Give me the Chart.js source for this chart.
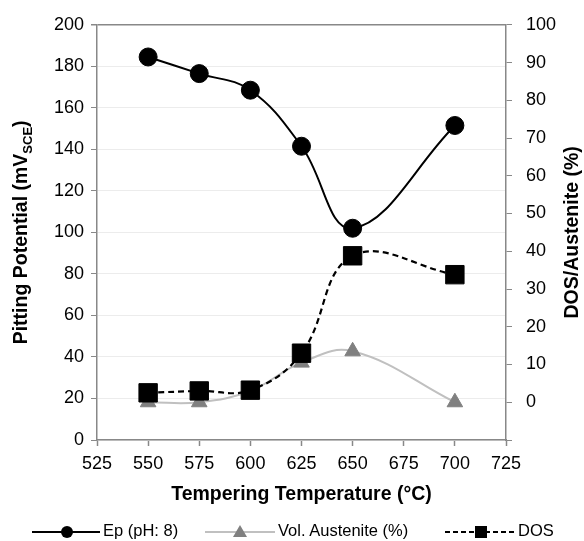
<!DOCTYPE html>
<html>
<head>
<meta charset="utf-8">
<script src="https://cdn.jsdelivr.net/npm/chart.js@4/dist/chart.umd.min.js"></script>
<style>
  html, body { margin: 0; padding: 0; background: #fff; }
  #wrap { position: relative; width: 584px; height: 541px; }
  #legend {
    position: absolute; left: 0; top: 516px; width: 584px; height: 28px;
    font-family: "Liberation Sans", Arial, sans-serif; font-size: 16.5px; color: #000;
  }
  #legend .item { position: absolute; top: 0; height: 28px; line-height: 28px; white-space: nowrap; }
  #legend svg { vertical-align: middle; margin-right: 2px; }
</style>
</head>
<body>
<div id="wrap">
  <canvas id="chart" width="584" height="541"></canvas>
  <div id="legend">
    <div class="item" style="left:31px">
      <svg width="70" height="20"><line x1="1" y1="10" x2="69" y2="10" stroke="#000" stroke-width="2.2"/><circle cx="36" cy="10" r="6" fill="#000"/></svg>Ep (pH: 8)
    </div>
    <div class="item" style="left:204px">
      <svg width="72" height="20"><line x1="1" y1="10" x2="71" y2="10" stroke="#c0c0c0" stroke-width="2.2"/><polygon points="36,3 43,15 29,15" fill="#808080"/></svg>Vol. Austenite (%)
    </div>
    <div class="item" style="left:444px">
      <svg width="72" height="20"><line x1="1" y1="10" x2="70" y2="10" stroke="#000" stroke-width="2.2" stroke-dasharray="5,3"/><rect x="31" y="4" width="12" height="12" fill="#000"/></svg>DOS
    </div>
  </div>
</div>
<script>
// tempering temperatures (°C)
const temps = [550, 575, 600, 625, 650, 700];
// pitting potential, mV_SCE (left axis)
const epValues = [184.5, 176.5, 168.5, 141.5, 102, 151.5];
// volume fraction of austenite, % (right axis)
const austeniteValues = [0, 0, 3, 10.5, 13.5, 0];
// degree of sensitization, % (right axis)
const dosValues = [2.5, 3, 3.2, 13, 38.8, 33.8];

const axisGray = "#888";
const fontFamily = "'Liberation Sans', Arial, sans-serif";
const tickFont = { family: fontFamily, size: 18 };

function toPoints(xs, ys) {
  return xs.map((x, i) => ({ x: x, y: ys[i] }));
}

// axis titles drawn by hand: left one has a subscript, right one reads bottom-to-top
const axisTitles = {
  id: "axisTitles",
  afterDraw(chart) {
    const ctx = chart.ctx;
    const area = chart.chartArea;
    const cy = (area.top + area.bottom) / 2;
    const big = "bold 19.5px " + fontFamily;
    const small = "bold 13px " + fontFamily;

    ctx.save();
    ctx.fillStyle = "#000";
    ctx.textBaseline = "middle";

    // left title
    const p1 = "Pitting Potential (mV";
    const p2 = "SCE";
    const p3 = ")";
    ctx.font = big;
    const w1 = ctx.measureText(p1).width;
    const w3 = ctx.measureText(p3).width;
    ctx.font = small;
    const w2 = ctx.measureText(p2).width;
    const total = w1 + w2 + w3;
    ctx.translate(22, cy);
    ctx.rotate(-Math.PI / 2);
    ctx.textAlign = "left";
    let x = -total / 2;
    ctx.font = big;
    ctx.fillText(p1, x, 0);
    x += w1;
    ctx.font = small;
    ctx.fillText(p2, x, 6);
    x += w2;
    ctx.font = big;
    ctx.fillText(p3, x, 0);
    ctx.restore();

    // right title
    ctx.save();
    ctx.fillStyle = "#000";
    ctx.textBaseline = "middle";
    ctx.textAlign = "center";
    ctx.font = big;
    ctx.translate(573, cy);
    ctx.rotate(-Math.PI / 2);
    ctx.fillText("DOS/Austenite (%)", 0, 0);
    ctx.restore();

    // x title
    ctx.save();
    ctx.fillStyle = "#000";
    ctx.textBaseline = "middle";
    ctx.textAlign = "center";
    ctx.font = big;
    ctx.fillText("Tempering Temperature (°C)", (area.left + area.right) / 2, 495);
    ctx.restore();
  }
};

new Chart(document.getElementById("chart"), {
  type: "line",
  data: {
    datasets: [
      {
        label: "Ep (pH: 8)",
        data: toPoints(temps, epValues),
        yAxisID: "y",
        borderColor: "#000",
        backgroundColor: "#000",
        borderWidth: 2,
        pointStyle: "circle",
        pointRadius: 9,
        pointBorderWidth: 1,
        tension: 0.4,
        order: 0
      },
      {
        label: "Vol. Austenite (%)",
        data: toPoints(temps, austeniteValues),
        yAxisID: "y1",
        borderColor: "#c0c0c0",
        backgroundColor: "#808080",
        pointBorderColor: "#808080",
        borderWidth: 2,
        pointStyle: "triangle",
        pointRadius: 9,
        pointBorderWidth: 1,
        tension: 0.4,
        order: 2
      },
      {
        label: "DOS",
        data: toPoints(temps, dosValues),
        yAxisID: "y1",
        borderColor: "#000",
        backgroundColor: "#000",
        borderWidth: 2.2,
        borderDash: [6, 4],
        pointStyle: "rect",
        pointRadius: 13,
        pointBorderWidth: 1,
        tension: 0.4,
        order: 1
      }
    ]
  },
  options: {
    responsive: false,
    animation: false,
    layout: { padding: { left: 0, right: 0, top: 19, bottom: 36 } },
    plugins: {
      legend: { display: false },
      tooltip: { enabled: false }
    },
    scales: {
      x: {
        type: "linear",
        min: 525,
        max: 725,
        ticks: { stepSize: 25, padding: 7, color: "#000", font: tickFont },
        grid: { drawOnChartArea: false, tickLength: 6, tickColor: axisGray, tickWidth: 1.5 },
        border: { color: axisGray, width: 1.5 },
        afterFit(scale) { scale.height = 541 - 36 - 440; }
      },
      y: {
        position: "left",
        min: 0,
        max: 200,
        ticks: { stepSize: 20, padding: 7, color: "#000", font: tickFont },
        grid: {
          color: (c) => (c.tick && c.tick.value === 200 ? axisGray : "#ececec"),
          lineWidth: (c) => (c.tick && c.tick.value === 200 ? 1.5 : 1),
          tickLength: 6,
          tickColor: axisGray
        },
        border: { color: axisGray, width: 1.5 },
        afterFit(scale) { scale.width = 97; }
      },
      y1: {
        position: "right",
        min: -10,
        max: 100,
        ticks: {
          stepSize: 10,
          padding: 14,
          color: "#000",
          font: tickFont,
          callback: (v) => (v < 0 ? "" : v)
        },
        grid: { drawOnChartArea: false, tickLength: 6, tickColor: axisGray },
        border: { color: axisGray, width: 1.5 },
        afterFit(scale) { scale.width = 584 - 506; }
      }
    }
  },
  plugins: [axisTitles]
});
</script>
</body>
</html>
